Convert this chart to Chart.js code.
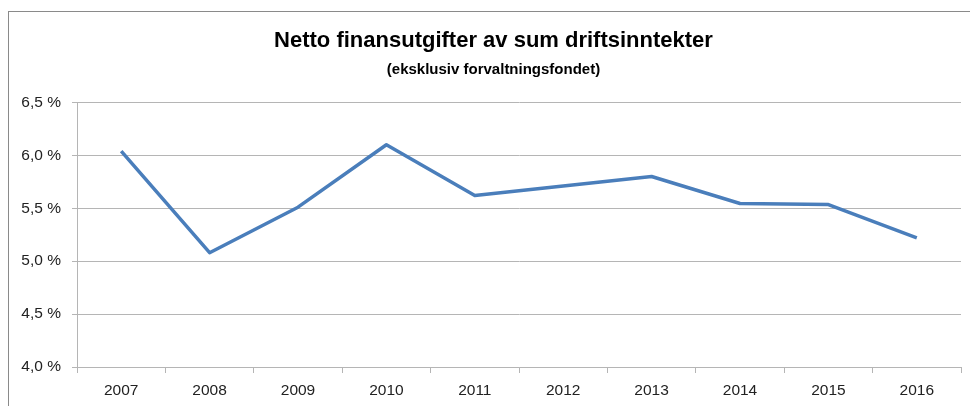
<!DOCTYPE html>
<html>
<head>
<meta charset="utf-8">
<script src="https://cdn.jsdelivr.net/npm/chart.js@4.4.0/dist/chart.umd.min.js"></script>
<style>
  html, body { margin: 0; padding: 0; background: #fff; overflow: hidden; }
  #wrap { position: relative; width: 970px; height: 406px; overflow: hidden; }
  #box { position: absolute; left: 8px; top: 11px; width: 990px; height: 420px; border: 1px solid #8a8a8a; box-sizing: border-box; }
  #cv { position: absolute; left: 0; top: 0; }
</style>
</head>
<body>
<div id="wrap">
  <div id="box"></div>
  <canvas id="cv" width="977" height="406"></canvas>
</div>
<script>
const titleText = "Netto finansutgifter av sum driftsinntekter";
const subtitleText = "(eksklusiv forvaltningsfondet)";
const years = ["2007", "2008", "2009", "2010", "2011", "2012", "2013", "2014", "2015", "2016"];
const shareValues = [6.04, 5.08, 5.51, 6.10, 5.62, 5.71, 5.80, 5.545, 5.535, 5.22];
const yTicks = [4.0, 4.5, 5.0, 5.5, 6.0, 6.5];

const tickFont = { family: "'Liberation Sans', Arial, sans-serif", size: 15.5 };

new Chart(document.getElementById('cv'), {
  type: 'line',
  data: {
    labels: years,
    datasets: [{
      data: shareValues,
      borderColor: '#4A7EBB',
      borderWidth: 3.5,
      pointRadius: 0,
      pointHoverRadius: 0,
      tension: 0,
      fill: false,
      borderJoinStyle: 'round',
      yAxisID: 'y'
    }]
  },
  options: {
    responsive: false,
    animation: false,
    events: [],
    layout: { padding: { left: 10, right: 0, top: 0, bottom: 0 } },
    plugins: {
      legend: { display: false },
      tooltip: { enabled: false },
      title: {
        display: true,
        text: titleText,
        color: '#000',
        font: { family: "'Liberation Sans', Arial, sans-serif", size: 22, weight: 'bold', lineHeight: 1.2 },
        padding: { top: 28, bottom: 0 }
      },
      subtitle: {
        display: true,
        text: subtitleText,
        color: '#000',
        font: { family: "'Liberation Sans', Arial, sans-serif", size: 15, weight: 'bold', lineHeight: 1.2 },
        padding: { top: 6, bottom: 24 }
      }
    },
    scales: {
      x: {
        type: 'category',
        offset: true,
        grid: {
          display: true,
          offset: true,
          drawOnChartArea: false,
          drawTicks: true,
          tickLength: 6,
          color: '#b5b5b5',
          lineWidth: 1
        },
        border: { display: true, color: '#b5b5b5', width: 1 },
        ticks: { color: '#222', font: tickFont, padding: 8, maxRotation: 0, autoSkip: false },
        afterFit: (s) => { s.height = 39; }
      },
      y: {
        position: 'left',
        min: 4.0,
        max: 6.5,
        afterBuildTicks: (s) => { s.ticks = yTicks.map(v => ({ value: v })); },
        grid: {
          display: true,
          drawOnChartArea: true,
          drawTicks: true,
          tickLength: 5,
          color: '#b5b5b5',
          lineWidth: 1
        },
        border: { display: true, color: '#b5b5b5', width: 1 },
        ticks: {
          color: '#222',
          font: tickFont,
          padding: 11,
          callback: (v) => Number(v).toFixed(1).replace('.', ',') + ' %'
        },
        afterFit: (s) => { s.width = 67; }
      },
      yRight: {
        position: 'right',
        display: true,
        min: 4.0,
        max: 6.5,
        grid: { display: false, drawOnChartArea: false, drawTicks: false },
        border: { display: false },
        ticks: { display: false },
        afterFit: (s) => { s.width = 16; }
      }
    }
  }
});
</script>
</body>
</html>
